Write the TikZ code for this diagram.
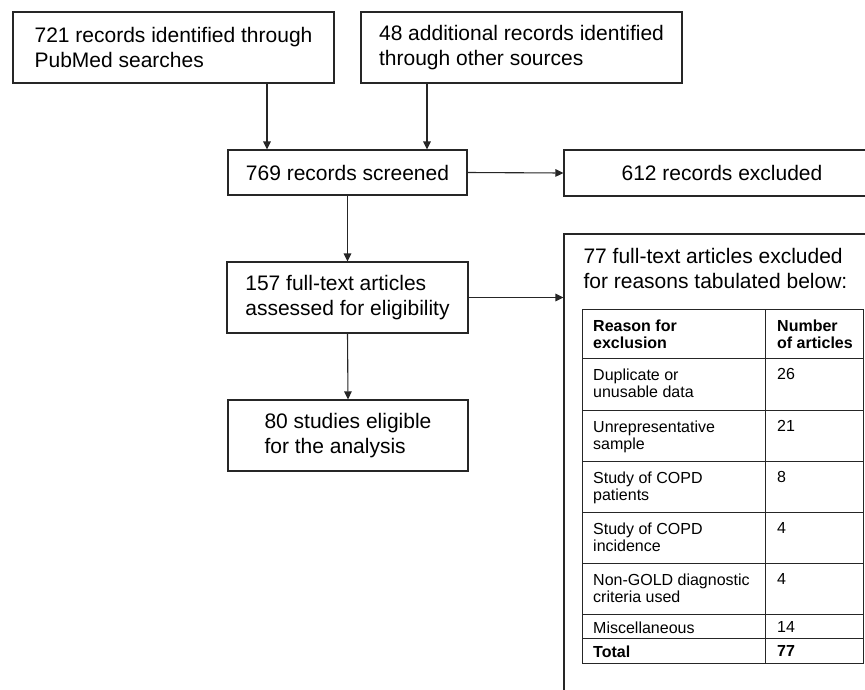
\documentclass[tikz,border=0pt]{standalone}
\usepackage{fontspec}
\setmainfont{Liberation Sans}
\usetikzlibrary{arrows.meta}
\tikzset{
  box/.style={draw=black!85, line width=1.1pt, inner sep=0pt, align=left,
    font=\fontsize{21}{25}\selectfont},
  arr/.style={-{Triangle[length=8pt,width=7.5pt]}, line width=1.1pt, draw=black!85},
  tab/.style={draw=black!85, line width=1pt},
  cell/.style={anchor=north west, inner sep=0pt, align=left,
    font=\fontsize{16}{17.5}\selectfont},
  hcell/.style={cell, font=\fontsize{16}{17.5}\selectfont\bfseries},
}
\begin{document}
\begin{tikzpicture}[x=1pt,y=-1pt]
\useasboundingbox (0,0) rectangle (865,689);
\clip (0,0) rectangle (865,689);
\fill[white] (0,0) rectangle (865,689);

% boxes
\node[box, minimum width=321pt, minimum height=71pt] (b1) at (173.5,47.5)
  {721 records identified through\\PubMed searches};
\node[box, minimum width=321pt, minimum height=71pt] (b2) at (521.5,47.5)
  {48 additional records identified\\through other sources};
\node[box, minimum width=239pt, minimum height=45pt] (b3) at (347.5,172.5)
  {769 records screened};
\node[box, minimum width=316pt, minimum height=46pt] (b612) at (722,173)
  {612 records excluded};
\node[box, minimum width=241pt, minimum height=71pt] (b4) at (347.5,297.5)
  {157 full-text articles\\assessed for eligibility};
\node[box, minimum width=240pt, minimum height=71pt] (b5) at (348,435.5)
  {80 studies eligible\\for the analysis};
\node[box, minimum width=316pt, minimum height=486pt] (excl) at (722,477) {};
\node[box, draw=none, anchor=north west] (exclt) at (583,248)
  {77 full-text articles excluded\\for reasons tabulated below:};

% connectors
\draw[arr] ([xshift=93.5pt]b1.south) -- ([xshift=-80.5pt]b3.north);
\draw[arr] ([xshift=-94.5pt]b2.south) -- ([xshift=79.5pt]b3.north);
\draw[arr] (b3.east) -- (b612.west);
\draw[arr] (b3.south) -- (b4.north);
\draw[arr] (b4.east) -- (b4.east -| excl.west);
\draw[arr] (b4.south) -- (b5.north);

% table
\draw[tab] (582,309) rectangle (863,663);
\foreach \yy in {358,410,461,512,563,614,638}
  \draw[tab] (582,\yy) -- (863,\yy);
\draw[tab] (765,309) -- (765,663);

\node[hcell] (r0a) at (593,319.3) {Reason for\\exclusion};
\node[hcell] (r0b) at (777,319.3) {Number\\of articles};
\node[cell] (r1a) at (593,368.3) {Duplicate or\\unusable data};
\node[cell] (r1b) at (777,368.3) {26};
\node[cell] (r2a) at (593,420.3) {Unrepresentative\\sample};
\node[cell] (r2b) at (777,420.3) {21};
\node[cell] (r3a) at (593,471.3) {Study of COPD\\patients};
\node[cell] (r3b) at (777,471.3) {8};
\node[cell] (r4a) at (593,522.3) {Study of COPD\\incidence};
\node[cell] (r4b) at (777,522.3) {4};
\node[cell] (r5a) at (593,573.3) {Non-GOLD diagnostic\\criteria used};
\node[cell] (r5b) at (777,573.3) {4};
\node[cell] (r6a) at (593,621.5) {Miscellaneous};
\node[cell] (r6b) at (777,621.5) {14};
\node[hcell] (r7a) at (593,645.5) {Total};
\node[hcell] (r7b) at (777,645.5) {77};
\end{tikzpicture}
\end{document}
